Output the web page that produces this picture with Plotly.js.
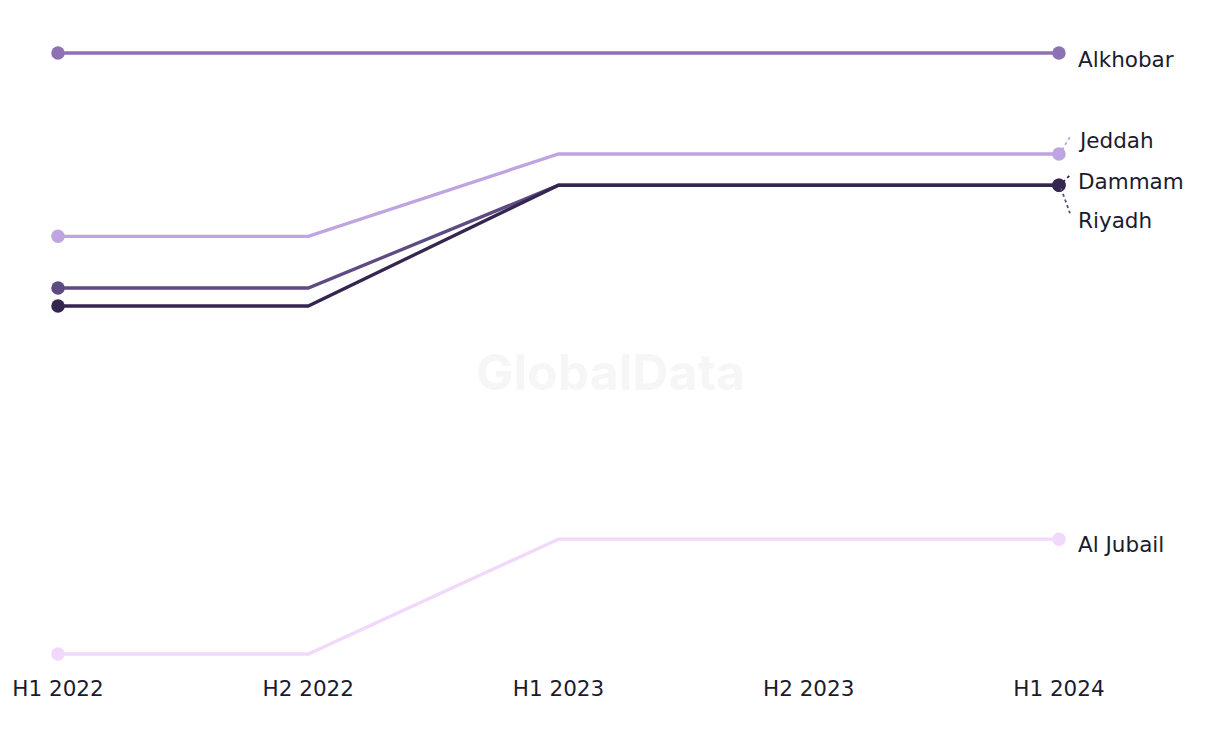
<!DOCTYPE html>
<html>
<head>
<meta charset="utf-8">
<script src="https://cdn.plot.ly/plotly-3.0.1.min.js"></script>
<style>html,body{margin:0;padding:0;background:#fff;}#chart{width:1220px;height:744px;}</style>
</head>
<body>
<div id="chart"></div>
<script>
const periods = ["H1 2022", "H2 2022", "H1 2023", "H2 2023", "H1 2024"];
const alkhobar = [100, 100, 100, 100, 100];
const jeddah = [69.5, 69.5, 83.2, 83.2, 83.2];
const riyadh = [60.9, 60.9, 78.0, 78.0, 78.0];
const dammam = [57.9, 57.9, 78.0, 78.0, 78.0];
const alJubail = [0, 0, 19.1, 19.1, 19.1];

const FONT = "'DejaVu Sans', 'Noto Sans', sans-serif";
const series = [
  {name: "Al Jubail", y: alJubail, color: "#f0d9fb", shift: -5, lead: null},
  {name: "Jeddah", y: jeddah, color: "#bfa4e2", shift: 13, lead: [3, 4, 11, 17]},
  {name: "Riyadh", y: riyadh, color: "#5e4b83", shift: -35, lead: [2, -3, 11, -28]},
  {name: "Dammam", y: dammam, color: "#35264f", shift: 4, lead: [4, 3, 12, 11]},
  {name: "Alkhobar", y: alkhobar, color: "#8c72b4", shift: -6, lead: null}
];

// plot geometry (used to convert small pixel offsets of label leader lines)
const XR = [0, 4.2];
const M = {l: 58, r: 111, t: 41, b: 78};
const YR = [-2, 102];
const plotW = 1220 - M.l - M.r, plotH = 744 - M.t - M.b;
const pxPerCat = plotW / (XR[1] - XR[0]);
const pxPerUnit = plotH / (YR[1] - YR[0]);

const traces = [];
const annotations = [];
const shapes = [];
const last = periods.length - 1;
series.forEach(s => {
  traces.push({
    x: periods, y: s.y, mode: "lines", type: "scatter", name: s.name,
    line: {color: s.color, width: 3.3}, hoverinfo: "skip", cliponaxis: false
  });
  traces.push({
    x: [periods[0], periods[last]], y: [s.y[0], s.y[last]], mode: "markers", type: "scatter",
    marker: {color: s.color, size: 13.5}, hoverinfo: "skip", cliponaxis: false, showlegend: false
  });
  annotations.push({
    x: periods[last], y: s.y[last], xref: "x", yref: "y", text: s.name,
    showarrow: false, xanchor: "left", yanchor: "middle", xshift: 17, yshift: s.shift,
    font: {family: FONT, size: 21.5, color: "#1b1b2f"}
  });
  if (s.lead) {
    shapes.push({
      type: "line", xref: "x", yref: "y",
      x0: last + s.lead[0] / pxPerCat, y0: s.y[last] + s.lead[1] / pxPerUnit,
      x1: last + s.lead[2] / pxPerCat, y1: s.y[last] + s.lead[3] / pxPerUnit,
      line: {color: s.color, width: 1.8, dash: "3px,3px"}, layer: "above"
    });
  }
});

annotations.push({
  x: (610 - M.l) / plotW, y: 0.47, xref: "paper", yref: "paper", text: "<b>GlobalData</b>", showarrow: false,
  xanchor: "center", yanchor: "middle",
  font: {family: "Inter, Arial, sans-serif", size: 50, color: "#f6f6f6"}
});

const layout = {
  width: 1220, height: 744,
  margin: M,
  paper_bgcolor: "#fff", plot_bgcolor: "#fff",
  showlegend: false,
  xaxis: {
    type: "category", range: XR, showgrid: false, zeroline: false, showline: false,
    ticks: "", ticklabelstandoff: 7,
    tickfont: {family: FONT, size: 21.5, color: "#1b1b2f"}
  },
  yaxis: {range: YR, visible: false, showgrid: false, zeroline: false},
  annotations: annotations,
  shapes: shapes
};

Plotly.newPlot("chart", traces, layout, {displayModeBar: false, staticPlot: true});
</script>
</body>
</html>
